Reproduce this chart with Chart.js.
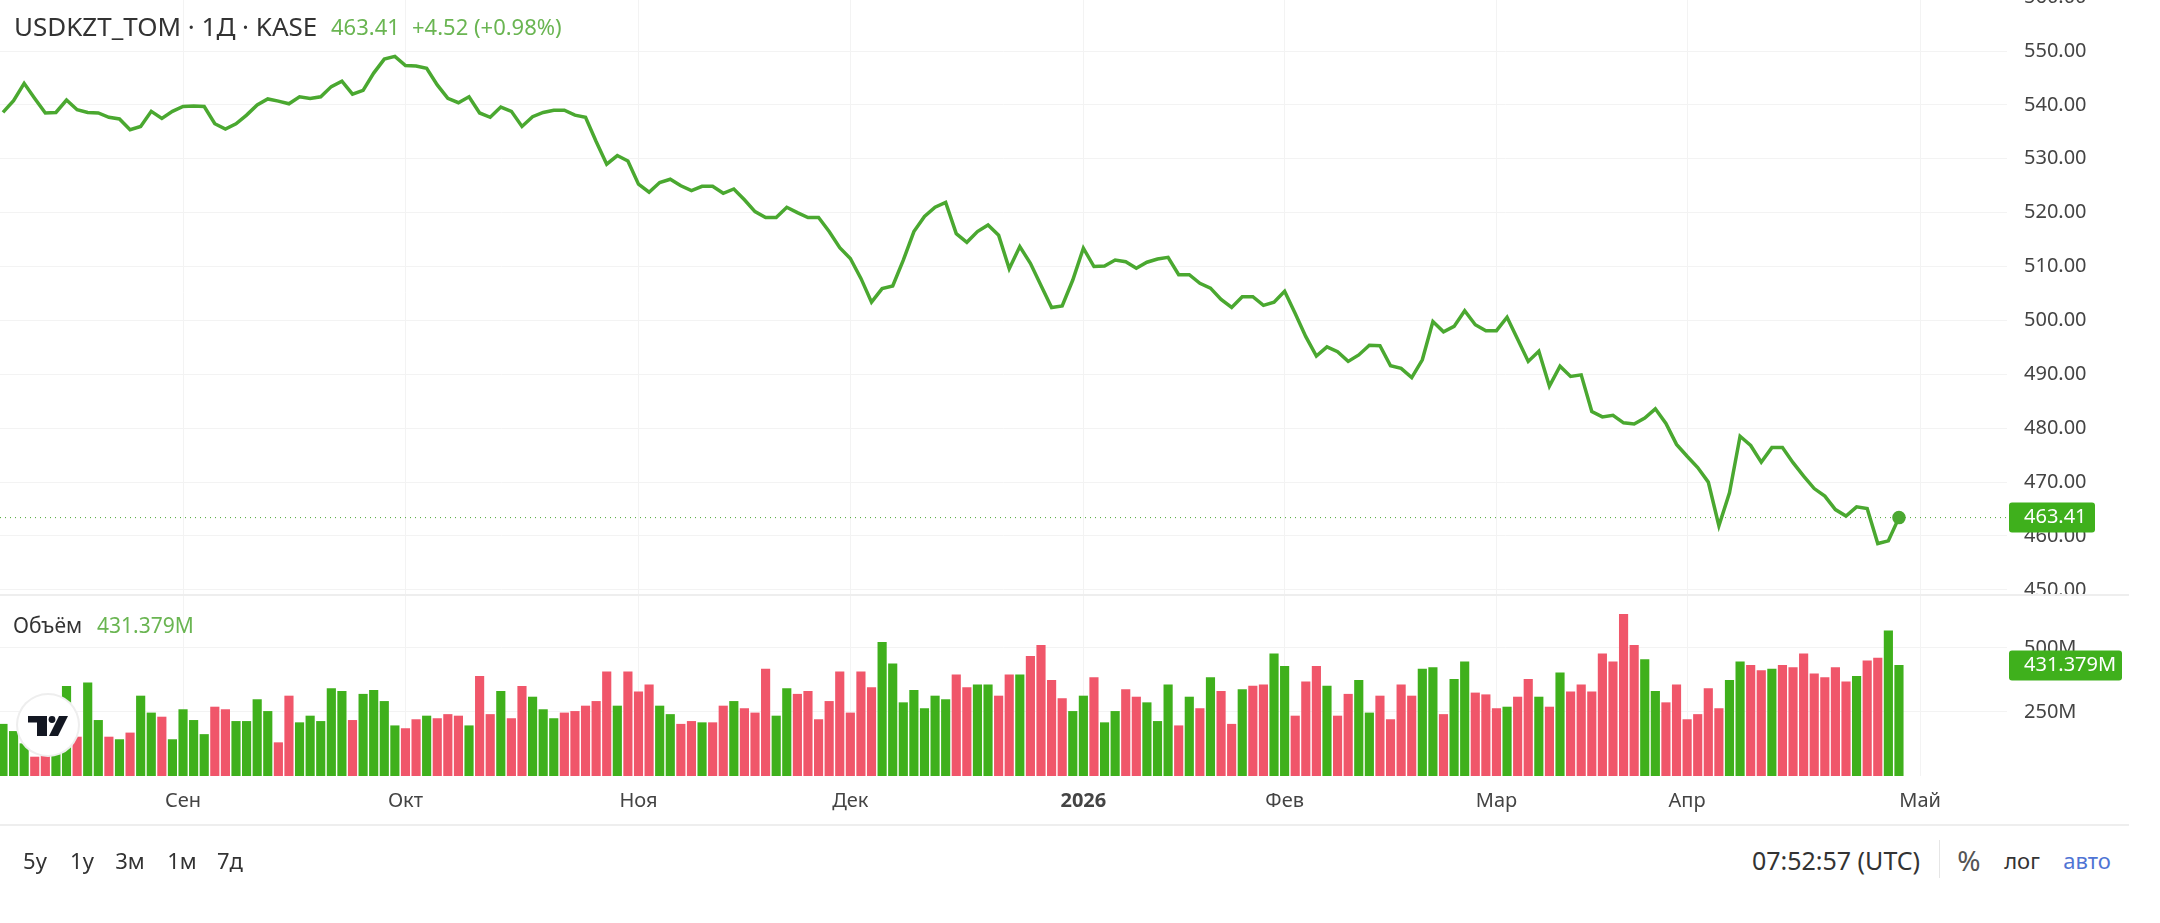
<!DOCTYPE html>
<html lang="ru">
<head>
<meta charset="utf-8">
<title>USDKZT_TOM</title>
<script src="https://cdn.jsdelivr.net/npm/chart.js@4/dist/chart.umd.min.js"></script>
<style>
    html, body { margin: 0; width: 2160px; height: 923px; overflow: hidden; background: #fff; font-family: 'Noto Sans', sans-serif; color: #333; }
    canvas { position: absolute; left: 0; }
    #grafico-preco { top: -10px; }
    #grafico-volume { top: 595px; }
    .sep { position: absolute; left: 0; width: 2129px; height: 2px; background: #eeeeee; }
    .txt { position: absolute; white-space: nowrap; font-size: 22px; line-height: 30px; transform: translateX(-50%); }
    .esq { transform: none; }
    .verde { color: #6ab552; }
    #logo { position: absolute; left: 18px; top: 695px; width: 60px; height: 60px; border-radius: 50%; background: #fff; box-shadow: 0 0 0 2px #eeeeee; }
</style>
</head>
<body>
<canvas id="grafico-preco" width="2160" height="605"></canvas>
<canvas id="grafico-volume" width="2160" height="229"></canvas>
<div class="sep" style="top:594px"></div>
<div class="sep" style="top:824px"></div>

<div class="txt esq" style="left:14px;top:11px;font-size:26px">USDKZT_TOM · 1Д · KASE</div>
<div class="txt esq verde" style="left:331px;top:11px">463.41</div>
<div class="txt esq verde" style="left:412px;top:11px">+4.52 (+0.98%)</div>
<div class="txt esq" style="left:13px;top:610px;font-size:21px">Объём</div>
<div class="txt esq verde" style="left:97px;top:610px;font-size:21px">431.379M</div>

<div id="logo">
    <svg width="60" height="60" viewBox="0 0 60 60">
        <path d="M10 21h19v20h-10V27.5h-9z M41 21h9l-10 20h-9z" fill="#131722"/>
        <circle cx="34" cy="24.5" r="3.4" fill="#131722"/>
    </svg>
</div>

<div class="txt" style="left:35px;top:845px">5у</div>
<div class="txt" style="left:82px;top:845px">1у</div>
<div class="txt" style="left:130px;top:845px">3м</div>
<div class="txt" style="left:182px;top:845px">1м</div>
<div class="txt" style="left:230px;top:845px">7д</div>
<div class="txt" style="left:1836px;top:845px;font-size:25px">07:52:57 (UTC)</div>
<div style="position:absolute;left:1939px;top:840px;width:1px;height:38px;background:#e6e6e6"></div>
<div class="txt" style="left:1969px;top:845px;font-size:28px;color:#555">%</div>
<div class="txt" style="left:2022px;top:845px">лог</div>
<div class="txt" style="left:2087px;top:845px;color:#4f74d4">авто</div>

<script>
// Dados
const precos = [
    538.6, 540.8, 544.0, 541.2, 538.5, 538.6, 540.9, 539.1, 538.6, 538.5, 537.7, 537.4, 535.4, 536.0, 538.8, 537.5, 538.8, 539.7, 539.8, 539.7,
    536.5, 535.5, 536.5, 538.1, 540.0, 541.1, 540.7, 540.2, 541.5, 541.2, 541.5, 543.4, 544.4, 542.0, 542.7, 545.9, 548.5, 549.0, 547.3, 547.2,
    546.8, 543.7, 541.2, 540.4, 541.5, 538.5, 537.7, 539.6, 538.8, 536.0, 537.8, 538.6, 539.0, 539.0, 538.1, 537.7, 533.2, 529.0, 530.6, 529.6,
    525.3, 523.8, 525.6, 526.2, 525.0, 524.1, 524.9, 524.9,
    523.6, 524.4, 522.4, 520.2, 519.1, 519.1, 521.0, 520.0, 519.1, 519.1, 516.5, 513.5, 511.5, 507.8, 503.4, 505.9, 506.4, 511.2, 516.5, 519.3,
    521.0, 521.9, 516.1, 514.5, 516.5, 517.7, 515.8, 509.6, 513.7, 510.6, 506.5, 502.4, 502.7, 507.5, 513.4, 510.0, 510.1, 511.2, 510.9, 509.7,
    510.8, 511.4, 511.7, 508.5, 508.5, 506.9, 506.0, 503.9, 502.4, 504.4, 504.4, 502.8, 503.4, 505.4, 501.3, 497.0, 493.4, 495.1, 494.2, 492.4,
    493.6, 495.4, 495.3, 491.6, 491.1, 489.4, 492.7, 499.8, 497.9,
    498.9, 501.8, 499.2, 498.1, 498.1, 500.6, 496.5, 492.4, 494.3, 487.8, 491.5, 489.6, 489.9, 483.1, 482.1, 482.4, 481.0, 480.8, 481.9, 483.6,
    480.9, 477.0, 474.8, 472.7, 470.0, 461.9, 468.0, 478.5, 476.8, 473.7, 476.4, 476.4, 473.6, 471.1, 468.8, 467.4, 464.9, 463.7, 465.4, 465.1,
    458.6, 459.1, 463.41
];
const volumes = [
    202, 174, 126, 74, 81, 113, 350, 152, 363, 217, 152, 142, 168, 312, 246, 230, 142, 259, 217, 162,
    269, 259, 213, 213, 298, 252, 130, 312, 208, 234, 213, 341, 330, 217, 319, 334, 291, 196, 185, 220,
    234, 224, 240, 234, 196, 389, 240, 330, 224, 350, 308, 259, 224, 246, 252, 273, 291, 406, 273, 406,
    328, 356, 273, 240, 202, 213, 208, 208,
    273, 291, 263, 246, 417, 234, 341, 319, 330, 220, 291, 406, 246, 406, 345, 521, 438, 286, 334, 263,
    312, 298, 395, 345, 356, 356, 312, 395, 395, 467, 510, 373, 302, 252, 312, 384, 208, 252, 337, 308,
    286, 213, 356, 196, 308, 263, 384, 330, 202, 337, 351, 356, 477, 428, 234, 367, 428, 351, 234, 319,
    373, 246, 312, 220, 356, 312, 417, 423, 240,
    377, 445, 324, 317, 263, 269, 308, 377, 308, 269, 402, 328, 356, 328, 477, 445, 631, 510, 454, 330,
    286, 356, 220, 240, 341, 263, 373, 445, 432, 411, 417, 432, 423, 477, 399, 384, 423, 367, 389, 449,
    460, 566, 431.379
];
// g = verde, r = vermelho
const direcoes = [
    'g','g','g','r','r','g','g','r','g','g','r','g','r','g','g','r','g','g','g','g',
    'r','r','g','g','g','g','r','r','g','g','g','g','g','r','g','g','g','g','r','r',
    'g','r','r','r','g','r','r','g','r','r','g','g','g','r','r','r','r','r','g','r',
    'r','r','g','g','r','r','g','r',
    'r','g','r','r','r','g','g','r','r','r','r','r','r','r','r','g','g','g','g','g',
    'g','g','r','r','g','g','r','r','g','r','r','r','r','g','g','r','g','g','r','r',
    'g','g','g','r','g','r','g','r','r','g','r','r','g','g','r','r','r','g','r','r',
    'g','g','r','r','r','r','g','g','r',
    'g','g','r','r','r','g','r','r','g','r','g','r','r','r','r','r','r','r','g','g',
    'r','r','r','r','r','r','g','g','r','r','g','r','r','r','r','r','r','r','g','r',
    'r','g','g'
];
const mesesPos = [17, 38, 60, 80, 102, 121, 141, 159, 181];
const mesesNomes = ['Сен', 'Окт', 'Ноя', 'Дек', '2026', 'Фев', 'Мар', 'Апр', 'Май'];
const ticksPreco = [450, 460, 470, 480, 490, 500, 510, 520, 530, 540, 550, 560];
const ticksVolume = [250, 500];

const VERDE = '#3fb01c';
const VERMELHO = '#f0566a';
const LINHA = '#4aa830';
const FONTE = "'Noto Sans', sans-serif";
const LARGURA_EIXO = 153;
const xMin = -0.28;
const xMax = 189.2;

const ultimo = precos.length - 1;

function eixoX(mostrarTexto) {
    return {
        type: 'linear',
        min: xMin,
        max: xMax,
        offset: false,
        afterBuildTicks: (s) => { s.ticks = mesesPos.map((v) => ({ value: v })); },
        afterFit: (s) => {
            s.height = mostrarTexto ? 48 : 0;
            s.paddingLeft = 0;
            s.paddingRight = 0;
        },
        border: { display: false },
        grid: { color: '#f3f3f3', drawTicks: false, offset: false },
        ticks: {
            display: mostrarTexto,
            autoSkip: false,
            maxRotation: 0,
            padding: 13,
            color: '#444',
            callback: (v) => mesesNomes[mesesPos.indexOf(v)],
            font: (ctx) => ({
                family: FONTE,
                size: 20,
                weight: ctx.tick && ctx.tick.value === 102 ? 'bold' : 'normal'
            })
        }
    };
}

function eixoY(min, max, ticks, formato) {
    return {
        position: 'right',
        min: min,
        max: max,
        afterBuildTicks: (s) => { s.ticks = ticks.map((v) => ({ value: v })); },
        afterFit: (s) => {
            s.width = LARGURA_EIXO;
            s.paddingTop = 0;
            s.paddingBottom = 0;
        },
        border: { display: false },
        grid: { color: '#f3f3f3', drawTicks: false },
        ticks: {
            padding: 17,
            color: '#444',
            font: { family: FONTE, size: 20 },
            callback: formato
        }
    };
}

// Etiqueta verde do último valor no eixo direito
function etiqueta(texto, y, ctx, largura) {
    ctx.save();
    ctx.fillStyle = VERDE;
    ctx.beginPath();
    ctx.roundRect(2009, y - 15, largura, 30, 3);
    ctx.fill();
    ctx.fillStyle = '#fff';
    ctx.font = '20px ' + FONTE;
    ctx.textBaseline = 'middle';
    ctx.fillText(texto, 2024, y);
    ctx.restore();
}

const pluginPreco = {
    id: 'pluginPreco',
    beforeDatasetsDraw(chart) {
        const y = chart.scales.y.getPixelForValue(precos[ultimo]);
        const c = chart.ctx;
        c.save();
        c.strokeStyle = LINHA;
        c.setLineDash([1, 4]);
        c.beginPath();
        c.moveTo(0, y);
        c.lineTo(chart.chartArea.right, y);
        c.stroke();
        c.restore();
    },
    afterDraw(chart) {
        etiqueta(precos[ultimo].toFixed(2), chart.scales.y.getPixelForValue(precos[ultimo]), chart.ctx, 86);
    }
};

const pluginVolume = {
    id: 'pluginVolume',
    afterDraw(chart) {
        etiqueta(volumes[ultimo].toFixed(3) + 'M', chart.scales.y.getPixelForValue(volumes[ultimo]), chart.ctx, 113);
    }
};

new Chart(document.getElementById('grafico-preco'), {
    type: 'line',
    data: {
        datasets: [{
            data: precos.map((v, i) => ({ x: i, y: v })),
            borderColor: LINHA,
            backgroundColor: LINHA,
            borderWidth: 3.5,
            tension: 0,
            pointRadius: (ctx) => (ctx.dataIndex === ultimo ? 5 : 0)
        }]
    },
    options: {
        responsive: false,
        animation: false,
        events: [],
        layout: { padding: 0, autoPadding: false },
        plugins: { legend: { display: false }, tooltip: { enabled: false } },
        scales: {
            x: eixoX(false),
            y: eixoY(449.05, 561.32, ticksPreco, (v) => v.toFixed(2))
        }
    },
    plugins: [pluginPreco]
});

new Chart(document.getElementById('grafico-volume'), {
    type: 'bar',
    data: {
        datasets: [{
            data: volumes.map((v, i) => ({ x: i, y: v })),
            backgroundColor: direcoes.map((d) => (d === 'g' ? VERDE : VERMELHO)),
            barThickness: 8.5
        }]
    },
    options: {
        responsive: false,
        animation: false,
        events: [],
        layout: { padding: 0, autoPadding: false },
        plugins: { legend: { display: false }, tooltip: { enabled: false } },
        scales: {
            x: eixoX(true),
            y: eixoY(0, 706, ticksVolume, (v) => v + 'M')
        }
    },
    plugins: [pluginVolume]
});
</script>
</body>
</html>
